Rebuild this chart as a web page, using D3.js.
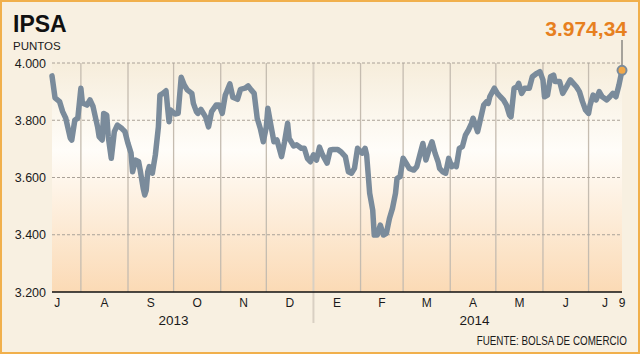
<!DOCTYPE html>
<html lang="es">
<head>
<meta charset="UTF-8">
<title>IPSA</title>
<script src="https://d3js.org/d3.v7.min.js"></script>
<style>
    body { margin: 0; background: #f8f0e1; }
    svg { display: block; font-family: "Liberation Sans", Arial, sans-serif; }
</style>
</head>
<body>
<svg id="chart" width="640" height="354"></svg>
<script>
    // days counted from the first session shown
    const startDate = new Date(2013, 6, 13);
    const dayOffsets = [
        0, 2, 5, 7, 9, 12, 13, 15, 17, 19,
        20, 23, 25, 27, 29, 30, 31, 33, 34, 36,
        37, 39, 41, 43, 46, 48, 50, 52, 53, 55,
        57, 58, 60, 61, 62, 63, 64, 66, 68, 70,
        71, 73, 75, 76, 77, 78, 81, 83, 85, 87,
        89, 92, 93, 95, 96, 98, 101, 103, 105, 108,
        110, 112, 114, 115, 117, 119, 122, 124, 127, 129,
        131, 133, 135, 137, 139, 141, 142, 144, 146, 148,
        151, 153, 155, 156, 159, 161, 164, 166, 168, 170,
        172, 174, 176, 178, 181, 183, 185, 188, 190, 193,
        195, 197, 199, 201, 204, 206, 207, 209, 211, 212,
        214, 216, 218, 220, 222, 224, 226, 227, 229, 231,
        233, 235, 238, 240, 242, 244, 246, 248, 250, 252,
        254, 255, 257, 259, 261, 263, 265, 266, 268, 270,
        272, 274, 276, 277, 280, 281, 284, 286, 287, 288,
        291, 293, 295, 297, 299, 301, 302, 304, 306, 307,
        309, 311, 314, 316, 319, 321, 323, 324, 326, 328,
        330, 331, 334, 336, 338, 341, 343, 345, 347, 349,
        351, 353, 354, 356, 358, 360, 362, 365, 367, 369,
        371, 373, 375
    ];
    const ipsa = [
        3955, 3878, 3865, 3830, 3808, 3738, 3731, 3800, 3808, 3912,
        3860, 3853, 3871, 3848, 3800, 3777, 3743, 3731, 3824, 3818,
        3743, 3667, 3760, 3783, 3771, 3760, 3719, 3685, 3620, 3661,
        3655, 3626, 3562, 3539, 3556, 3620, 3638, 3615, 3679, 3777,
        3888, 3894, 3903, 3847, 3795, 3836, 3822, 3824, 3950, 3923,
        3906, 3894, 3859, 3830, 3824, 3838, 3812, 3777, 3830, 3853,
        3853, 3824, 3888, 3900, 3927, 3880, 3873, 3908, 3912, 3920,
        3906, 3894, 3807, 3772, 3725, 3777, 3842, 3783, 3725, 3731,
        3673, 3725, 3789, 3737, 3710, 3714, 3702, 3702, 3667, 3655,
        3679, 3661, 3706, 3679, 3650, 3696, 3698, 3698, 3690, 3673,
        3620, 3615, 3632, 3702, 3685, 3702, 3679, 3545, 3486, 3399,
        3399, 3434, 3399, 3405, 3457, 3492, 3545, 3597, 3603, 3667,
        3650, 3632, 3626, 3638, 3679, 3719, 3661, 3696, 3725, 3685,
        3655, 3632, 3620, 3615, 3667, 3638, 3644, 3638, 3702, 3708,
        3748, 3766, 3789, 3807, 3760, 3783, 3853, 3865, 3859, 3882,
        3912, 3894, 3882, 3871, 3853, 3818, 3812, 3912, 3917, 3929,
        3894, 3912, 3912, 3952, 3964, 3970, 3941, 3882, 3888, 3952,
        3958, 3935, 3935, 3894, 3912, 3941, 3929, 3917, 3900, 3865,
        3836, 3824, 3853, 3888, 3871, 3900, 3882, 3871, 3882, 3894,
        3882, 3923, 3974.34
    ];
    const yTicks = [3200, 3400, 3600, 3800, 4000];
    const monthLabels = ["J", "A", "S", "O", "N", "D", "E", "F", "M", "A", "M", "J", "J"];
    const lastDayLabel = "9";

    const width = 640, height = 354;
    const margin = {top: 63, right: 18, bottom: 62, left: 52};

    const es = d3.formatLocale({decimal: ",", thousands: ".", grouping: [3], currency: ["$", ""]});
    const fmtTick = es.format(",d");
    const fmtLast = es.format(",.2f");

    const data = dayOffsets.map((d, i) => ({date: d3.timeDay.offset(startDate, d), value: ipsa[i]}));
    const last = data[data.length - 1];

    const x = d3.scaleTime()
        .domain([data[0].date, last.date])
        .range([margin.left, width - margin.right]);
    const y = d3.scaleLinear()
        .domain([3200, 4000])
        .range([height - margin.bottom, margin.top]);

    const svg = d3.select("#chart");

    // frame
    svg.append("rect")
        .attr("x", 1).attr("y", 1)
        .attr("width", width - 2).attr("height", height - 2)
        .attr("fill", "#f8f0e1")
        .attr("stroke", "#f1b04c")
        .attr("stroke-width", 2);

    const grad = svg.append("defs").append("linearGradient")
        .attr("id", "bg").attr("x1", 0).attr("y1", 0).attr("x2", 0).attr("y2", 1);
    grad.append("stop").attr("offset", "0%").attr("stop-color", "#f6eddb");
    grad.append("stop").attr("offset", "38%").attr("stop-color", "#fffdf9");
    grad.append("stop").attr("offset", "100%").attr("stop-color", "#fbdab5");

    svg.append("rect")
        .attr("x", x.range()[0]).attr("y", y(4000))
        .attr("width", x.range()[1] - x.range()[0])
        .attr("height", y(3200) - y(4000))
        .attr("fill", "url(#bg)");

    // month grid
    const months = d3.timeMonth.range(d3.timeMonth.ceil(x.domain()[0]), x.domain()[1]);
    svg.append("g")
        .selectAll("line")
        .data(months)
        .join("line")
        .attr("x1", d => x(d)).attr("x2", d => x(d))
        .attr("y1", y(4000))
        .attr("y2", d => d.getMonth() === 0 ? y(3200) + 31 : y(3200))
        .attr("stroke", d => d.getMonth() === 0 ? "#d9d0c3" : "#c5bcb0")
        .attr("stroke-width", d => d.getMonth() === 0 ? 2 : 1.3);

    // value grid
    svg.append("g")
        .selectAll("line")
        .data(yTicks.slice(1))
        .join("line")
        .attr("x1", x.range()[0]).attr("x2", x.range()[1])
        .attr("y1", d => y(d)).attr("y2", d => y(d))
        .attr("stroke", "#aaa298")
        .attr("stroke-dasharray", "3,2");

    svg.append("line")
        .attr("x1", x.range()[0]).attr("x2", x.range()[1])
        .attr("y1", y(3200)).attr("y2", y(3200))
        .attr("stroke", "#111").attr("stroke-width", 1.5);

    svg.append("g")
        .selectAll("text")
        .data(yTicks)
        .join("text")
        .attr("x", x.range()[0] - 6)
        .attr("y", d => y(d) + 4.5)
        .attr("text-anchor", "end")
        .attr("font-size", 12.5)
        .attr("fill", "#1a1a1a")
        .text(d => fmtTick(d));

    // month labels
    const allMonths = d3.timeMonth.range(d3.timeMonth.floor(x.domain()[0]), x.domain()[1]);
    svg.append("g")
        .selectAll("text")
        .data(allMonths)
        .join("text")
        .attr("x", (d, i) => i === allMonths.length - 1
            ? x(last.date) - 14
            : x(new Date(+d + (d3.timeMonth.offset(d, 1) - d) / 2)))
        .attr("y", y(3200) + 15)
        .attr("text-anchor", (d, i) => i === allMonths.length - 1 ? "end" : "middle")
        .attr("font-size", 12)
        .attr("fill", "#1a1a1a")
        .text((d, i) => monthLabels[i]);

    svg.append("text")
        .attr("x", x(last.date))
        .attr("y", y(3200) + 15)
        .attr("text-anchor", "middle")
        .attr("font-size", 12)
        .attr("fill", "#1a1a1a")
        .text(lastDayLabel);

    // year labels
    const years = d3.groups(allMonths, d => d.getFullYear());
    svg.append("g")
        .selectAll("text")
        .data(years)
        .join("text")
        .attr("x", ([, ms]) => {
            const a = ms[0], b = d3.timeMonth.offset(ms[ms.length - 1], 1);
            return x(new Date((+a + +b) / 2));
        })
        .attr("y", y(3200) + 33)
        .attr("text-anchor", "middle")
        .attr("font-size", 13.5)
        .attr("fill", "#1a1a1a")
        .text(([yr]) => yr);

    // series
    const line = d3.line()
        .x(d => x(d.date))
        .y(d => y(d.value));

    svg.append("path")
        .datum(data)
        .attr("fill", "none")
        .attr("stroke", "#7a8b9b")
        .attr("stroke-width", 5.5)
        .attr("stroke-linejoin", "round")
        .attr("stroke-linecap", "round")
        .attr("d", line);

    // last value callout
    svg.append("line")
        .attr("x1", x(last.date)).attr("x2", x(last.date))
        .attr("y1", 40).attr("y2", y(last.value))
        .attr("stroke", "#555").attr("stroke-width", 1);

    svg.append("circle")
        .attr("cx", x(last.date)).attr("cy", y(last.value))
        .attr("r", 4.5)
        .attr("fill", "#f2a848")
        .attr("stroke", "#7a8b9b")
        .attr("stroke-width", 2);

    svg.append("text")
        .attr("x", 627).attr("y", 36)
        .attr("text-anchor", "end")
        .attr("font-size", 21)
        .attr("font-weight", "bold")
        .attr("fill", "#e7801f")
        .text(fmtLast(last.value));

    // titles
    svg.append("text")
        .attr("x", 13).attr("y", 32)
        .attr("font-size", 23)
        .attr("font-weight", "bold")
        .attr("fill", "#111")
        .text("IPSA");

    svg.append("text")
        .attr("x", 13).attr("y", 50)
        .attr("font-size", 11.5)
        .attr("fill", "#1a1a1a")
        .text("PUNTOS");

    // source, drawn narrow like the original condensed face
    svg.append("g")
        .attr("transform", "translate(627,345) scale(0.82,1)")
        .append("text")
        .attr("text-anchor", "end")
        .attr("font-size", 12)
        .attr("fill", "#1a1a1a")
        .text("FUENTE: BOLSA DE COMERCIO");
</script>
</body>
</html>
